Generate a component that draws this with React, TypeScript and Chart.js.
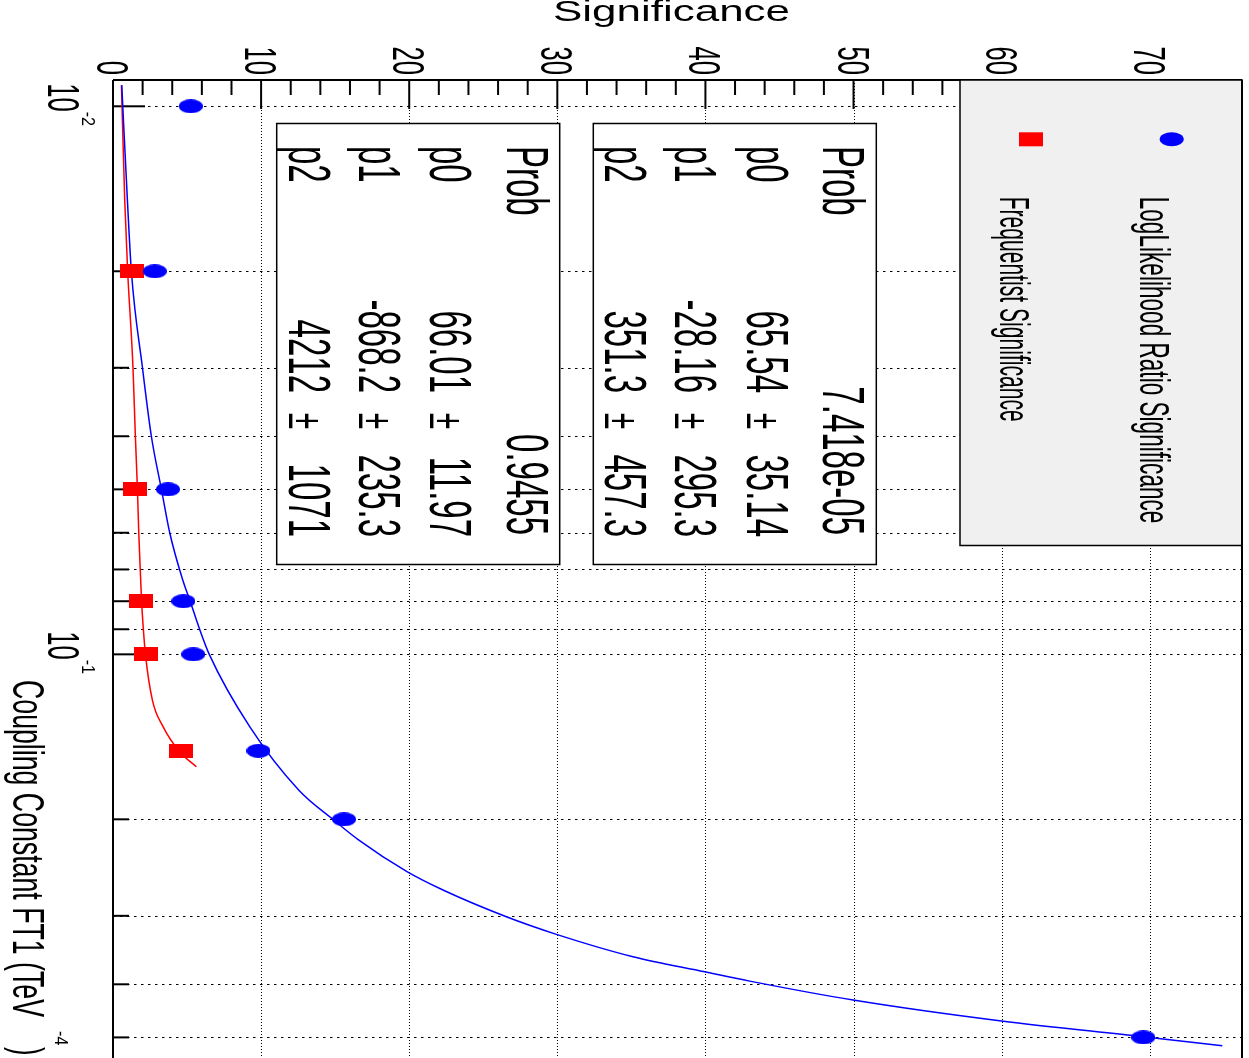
import React, { useEffect, useRef } from "react";
import { Chart, registerables } from "chart.js";

Chart.register(...registerables);

// ---------- data (significance vs coupling constant FT1) ----------
const LLR_COUPLING = [0.01, 0.02, 0.05, 0.08, 0.1, 0.15, 0.2, 0.5];
const LLR_SIGNIF = [5.25, 2.82, 3.71, 4.75, 5.42, 9.82, 15.6, 69.57];

const FREQ_COUPLING = [0.02, 0.05, 0.08, 0.1, 0.15];
const FREQ_SIGNIF = [1.26, 1.47, 1.89, 2.22, 4.56];

// fitted curves
const LLR_FIT_COUPLING = [0.00915, 0.0148, 0.02, 0.03, 0.04, 0.05, 0.06, 0.0732, 0.08, 0.09, 0.1, 0.1355, 0.177, 0.2006, 0.2183, 0.2492, 0.2692, 0.3012, 0.3243, 0.3563, 0.3796, 0.3947, 0.4274, 0.4668, 0.4985, 0.5178];
const LLR_FIT_SIGNIF = [0.59, 0.97, 1.24, 1.99, 2.59, 3.27, 3.83, 4.71, 5.21, 5.85, 6.5, 9.23, 12.55, 14.9, 16.6, 19.85, 22.28, 26.56, 29.94, 35.11, 39.95, 42.99, 49.97, 59.99, 69.55, 74.9];

const FREQ_FIT_COUPLING = [0.00915, 0.0148, 0.02, 0.03, 0.04, 0.05, 0.06, 0.0732, 0.08, 0.09, 0.1, 0.1212, 0.1355, 0.1506, 0.1604];
const FREQ_FIT_SIGNIF = [0.57, 0.79, 0.99, 1.35, 1.51, 1.65, 1.74, 1.87, 1.93, 2.05, 2.19, 2.66, 3.38, 4.5, 5.63];

// axes
const SIG_TICKS = [0, 10, 20, 30, 40, 50, 60, 70];
const SIG_MINOR = [2, 4, 6, 8, 12, 14, 16, 18, 22, 24, 26, 28, 32, 34, 36, 38, 42, 44, 46, 48, 52, 54, 56, 58, 62, 64, 66, 68, 72, 74, 76];
const COUPLING_DECADES = [0.01, 0.1];
const DECADE_EXPONENTS = ["-2", "-1"];
const COUPLING_MINOR = [0.02, 0.03, 0.04, 0.05, 0.06, 0.07, 0.08, 0.09, 0.2, 0.3, 0.4, 0.5];
const SIG_MIN = 0;
const SIG_MAX = 76.23;
const COUPLING_MIN = 0.008954;
const COUPLING_MAX = 0.5452;

// legend / stats text
const LEGEND_LABELS = ["LogLikelihood Ratio Significance", "Frequentist Significance"];
const STATS_LLR_PROB = "7.418e-05";
const STATS_LLR_NAMES = ["p0", "p1", "p2"];
const STATS_LLR_VALUES = ["65.54", "-28.16", "351.3"];
const STATS_LLR_ERRORS = ["35.14", "295.3", "457.3"];
const STATS_FREQ_PROB = "0.9455";
const STATS_FREQ_NAMES = ["p0", "p1", "p2"];
const STATS_FREQ_VALUES = ["66.01", "-868.2", "4212"];
const STATS_FREQ_ERRORS = ["11.97", "235.3", "1071"];

const X_TITLE = "Coupling Constant FT1 (TeV";
const X_TITLE_EXP = "-4";
const Y_TITLE = "Significance";

const FONT = '"Liberation Sans", Arial, Helvetica, sans-serif';
const BLUE = "#0000ff";
const RED = "#ff0000";

function makeMarker(kind: "ellipse" | "rect", color: string) {
  const c = document.createElement("canvas");
  c.width = 24;
  c.height = 14;
  const g = c.getContext("2d")!;
  g.fillStyle = color;
  if (kind === "ellipse") {
    g.beginPath();
    g.ellipse(12, 7, 12, 7, 0, 0, Math.PI * 2);
    g.fill();
  } else {
    g.fillRect(0, 0, 24, 14);
  }
  return c;
}

// text rotated 90deg clockwise (reads top -> bottom), condensed by k along reading direction
function rotText(ctx: CanvasRenderingContext2D, text: string, bx: number, y: number, size: number, k: number, align: "start" | "end" | "center" = "start") {
  ctx.save();
  ctx.font = `${size}px ${FONT}`;
  const w = ctx.measureText(text).width * k;
  let start = y;
  if (align === "end") start = y - w;
  else if (align === "center") start = y - w / 2;
  ctx.translate(bx, start);
  ctx.rotate(Math.PI / 2);
  ctx.scale(k, 1);
  ctx.textAlign = "left";
  ctx.textBaseline = "alphabetic";
  ctx.fillStyle = "#000";
  ctx.fillText(text, 0, 0);
  ctx.restore();
}

function rotTextLen(ctx: CanvasRenderingContext2D, text: string, bx: number, y: number, size: number, len: number) {
  ctx.save();
  ctx.font = `${size}px ${FONT}`;
  const k = len / ctx.measureText(text).width;
  ctx.restore();
  rotText(ctx, text, bx, y, size, k, "start");
}

function line(ctx: CanvasRenderingContext2D, x1: number, y1: number, x2: number, y2: number) {
  ctx.beginPath();
  ctx.moveTo(x1, y1);
  ctx.lineTo(x2, y2);
  ctx.stroke();
}

function drawStatsBox(ctx: CanvasRenderingContext2D, left: number, prob: string, names: string[], values: string[], errors: string[]) {
  const top = 123.5;
  const bottom = 564.5;
  const right = left + 283;
  ctx.save();
  ctx.fillStyle = "#ffffff";
  ctx.fillRect(left, top, right - left, bottom - top);
  ctx.strokeStyle = "#000";
  ctx.lineWidth = 1.5;
  ctx.strokeRect(left, top, right - left, bottom - top);
  ctx.restore();
  const S = 60;
  const K = 0.55;
  const baselines = [left + 230, left + 153.5, left + 82, left + 12];
  rotText(ctx, "Prob", baselines[0], 146, S, K);
  rotText(ctx, prob, baselines[0], 535, S, K, "end");
  for (let i = 0; i < names.length; i++) {
    const b = baselines[i + 1];
    rotText(ctx, names[i], b, 146, S, K);
    rotText(ctx, values[i], b, 393, S, K, "end");
    rotText(ctx, "\u00b1", b, 421, 48, 0.62, "center");
    rotText(ctx, errors[i], b, 537, S, K, "end");
  }
}

const rootPlugin = {
  id: "rootStyle",
  beforeDatasetsDraw(chart: any) {
    const { ctx, chartArea: a, scales } = chart;
    const xs = scales.x;
    const ys = scales.y;
    ctx.save();
    ctx.strokeStyle = "#000";
    // grid
    ctx.lineWidth = 1;
    ctx.setLineDash([1, 2]);
    for (const v of SIG_TICKS) {
      if (v === 0) continue;
      const px = Math.round(xs.getPixelForValue(v)) + 0.5;
      line(ctx, px, a.top, px, a.bottom);
    }
    ctx.setLineDash([2.5, 4.5]);
    for (const v of [...COUPLING_DECADES, ...COUPLING_MINOR]) {
      const py = Math.round(ys.getPixelForValue(v)) + 0.5;
      line(ctx, a.left, py, a.right, py);
    }
    ctx.setLineDash([]);
    // ticks
    ctx.lineWidth = 2;
    for (const v of SIG_TICKS) {
      const px = xs.getPixelForValue(v);
      line(ctx, px, a.top, px, a.top + 29);
    }
    for (const v of SIG_MINOR) {
      const px = xs.getPixelForValue(v);
      line(ctx, px, a.top, px, a.top + 15);
    }
    for (const v of COUPLING_DECADES) {
      const py = ys.getPixelForValue(v);
      line(ctx, a.left, py, a.left + 32, py);
    }
    for (const v of COUPLING_MINOR) {
      const py = ys.getPixelForValue(v);
      line(ctx, a.left, py, a.left + 16, py);
    }
    // frame (bottom edge lies outside the picture)
    ctx.lineWidth = 2;
    line(ctx, a.left, a.bottom + 20, a.left, a.top);
    line(ctx, a.left, a.top, a.right, a.top);
    line(ctx, a.right, a.top, a.right, a.bottom + 20);

    // legend box
    ctx.fillStyle = "#f0f0f0";
    ctx.fillRect(960, a.top, a.right - 960, 545.5 - a.top);
    ctx.lineWidth = 1.5;
    ctx.strokeRect(960, a.top, a.right - 960, 545.5 - a.top);
    ctx.lineWidth = 2;
    line(ctx, a.right, a.top, a.right, 546);
    ctx.fillStyle = BLUE;
    ctx.beginPath();
    ctx.ellipse(1171.7, 139.3, 12, 7, 0, 0, Math.PI * 2);
    ctx.fill();
    ctx.fillStyle = RED;
    ctx.fillRect(1019, 132.3, 24, 14);
    ctx.restore();

    rotTextLen(ctx, LEGEND_LABELS[0], 1140, 196.7, 42, 326.7);
    rotTextLen(ctx, LEGEND_LABELS[1], 1000, 196.7, 42, 225);

    // stats boxes
    drawStatsBox(ctx, 593.3, STATS_LLR_PROB, STATS_LLR_NAMES, STATS_LLR_VALUES, STATS_LLR_ERRORS);
    drawStatsBox(ctx, 276.7, STATS_FREQ_PROB, STATS_FREQ_NAMES, STATS_FREQ_VALUES, STATS_FREQ_ERRORS);

    // significance tick labels
    for (const v of SIG_TICKS) {
      const px = xs.getPixelForValue(v);
      rotText(ctx, String(v), px - 16, 75, 44.5, 0.575, "end");
    }
    // coupling decade labels
    COUPLING_DECADES.forEach((v, i) => {
      const py = ys.getPixelForValue(v);
      rotText(ctx, "10", 48.3, py - 23, 44.5, 0.575);
      rotText(ctx, DECADE_EXPONENTS[i], 81.7, py + 5.4, 19, 0.85);
    });
    // x title (coupling)
    rotTextLen(ctx, X_TITLE, 13, 680, 44.5, 337);
    rotText(ctx, X_TITLE_EXP, 55, 1031, 19, 0.85);
    rotText(ctx, ")", 13, 1047, 44.5, 0.575);

    // y title (significance), horizontal on screen
    ctx.save();
    ctx.font = `29px ${FONT}`;
    const w = ctx.measureText(Y_TITLE).width;
    ctx.translate(553, 21);
    ctx.scale(237 / w, 1);
    ctx.fillStyle = "#000";
    ctx.textBaseline = "alphabetic";
    ctx.fillText(Y_TITLE, 0, 0);
    ctx.restore();
  },
};

export default function App() {
  const ref = useRef<HTMLCanvasElement | null>(null);
  useEffect(() => {
    if (!ref.current) return;
    const blueMarker = makeMarker("ellipse", BLUE);
    const redMarker = makeMarker("rect", RED);
    const chart = new Chart(ref.current, {
      type: "scatter",
      data: {
        datasets: [
          {
            label: "LLR fit",
            data: LLR_FIT_COUPLING.map((c, i) => ({ x: LLR_FIT_SIGNIF[i], y: c })),
            showLine: true,
            borderColor: BLUE,
            borderWidth: 1.5,
            pointRadius: 0,
            cubicInterpolationMode: "monotone",
            order: 2,
          },
          {
            label: "Frequentist fit",
            data: FREQ_FIT_COUPLING.map((c, i) => ({ x: FREQ_FIT_SIGNIF[i], y: c })),
            showLine: true,
            borderColor: RED,
            borderWidth: 1.5,
            pointRadius: 0,
            cubicInterpolationMode: "monotone",
            order: 2,
          },
          {
            label: LEGEND_LABELS[0],
            data: LLR_COUPLING.map((c, i) => ({ x: LLR_SIGNIF[i], y: c })),
            pointStyle: blueMarker as any,
            pointRadius: 7,
            backgroundColor: BLUE,
            borderColor: BLUE,
            order: 1,
          },
          {
            label: LEGEND_LABELS[1],
            data: FREQ_COUPLING.map((c, i) => ({ x: FREQ_SIGNIF[i], y: c })),
            pointStyle: redMarker as any,
            pointRadius: 7,
            backgroundColor: RED,
            borderColor: RED,
            order: 1,
          },
        ],
      },
      options: {
        animation: false,
        responsive: false,
        devicePixelRatio: 1,
        events: [],
        layout: { autoPadding: false, padding: { left: 113, top: 80, right: 7, bottom: 0 } },
        plugins: { legend: { display: false }, tooltip: { enabled: false } },
        scales: {
          x: { type: "linear", display: false, bounds: "data", min: SIG_MIN, max: SIG_MAX },
          y: { type: "logarithmic", display: false, bounds: "data", min: COUPLING_MIN, max: COUPLING_MAX, reverse: true },
        },
      },
      plugins: [rootPlugin],
    });
    return () => chart.destroy();
  }, []);
  return (
    <div style={{ position: "fixed", left: 0, top: 0, width: 1249, height: 1058, overflow: "hidden", background: "#fff" }}>
      <canvas ref={ref} width={1249} height={1058} style={{ display: "block" }} />
    </div>
  );
}
